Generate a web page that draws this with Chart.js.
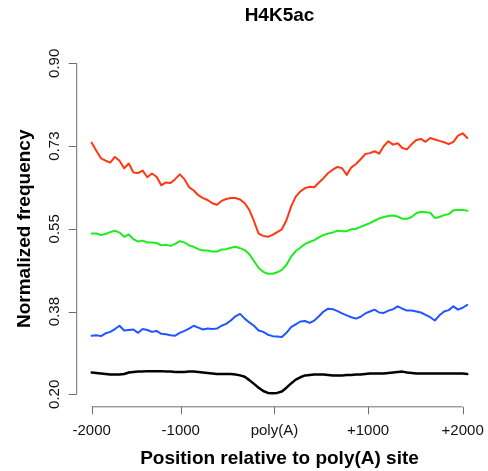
<!DOCTYPE html>
<html>
<head>
<meta charset="utf-8">
<script src="https://cdn.jsdelivr.net/npm/chart.js@4/dist/chart.umd.min.js"></script>
<style>
    html, body { margin: 0; padding: 0; background: #ffffff; }
    #wrap { width: 488px; height: 471px; }
</style>
</head>
<body>
<div id="wrap"><canvas id="profileChart"></canvas></div>
<script>

// 50 bp bins from -2000 to +2050 around the poly(A) site
const positions = [];
for (let i = 0; i < 82; i++) positions.push(-2000 + 50 * i);

const redValues = [
    0.732, 0.715, 0.699, 0.694, 0.690, 0.702, 0.694, 0.678, 0.688, 0.669,
    0.668, 0.673, 0.659, 0.667, 0.660, 0.642, 0.648, 0.647, 0.655, 0.665,
    0.655, 0.638, 0.631, 0.621, 0.615, 0.611, 0.604, 0.601, 0.609, 0.613,
    0.615, 0.615, 0.612, 0.604, 0.590, 0.566, 0.540, 0.535, 0.533, 0.537,
    0.543, 0.549, 0.568, 0.597, 0.618, 0.629, 0.636, 0.639, 0.638, 0.648,
    0.657, 0.668, 0.675, 0.681, 0.678, 0.664, 0.680, 0.687, 0.697, 0.708,
    0.710, 0.714, 0.709, 0.725, 0.735, 0.728, 0.731, 0.721, 0.718, 0.729,
    0.738, 0.740, 0.734, 0.742, 0.739, 0.736, 0.733, 0.729, 0.734, 0.747,
    0.752, 0.742
];

const greenValues = [
    0.540, 0.540, 0.537, 0.539, 0.543, 0.546, 0.542, 0.533, 0.538, 0.528,
    0.523, 0.525, 0.521, 0.521, 0.520, 0.515, 0.516, 0.514, 0.518, 0.524,
    0.521, 0.515, 0.512, 0.507, 0.504, 0.504, 0.502, 0.502, 0.506, 0.507,
    0.510, 0.512, 0.509, 0.505, 0.496, 0.482, 0.467, 0.459, 0.455, 0.455,
    0.458, 0.463, 0.474, 0.491, 0.503, 0.510, 0.518, 0.522, 0.526, 0.532,
    0.537, 0.540, 0.542, 0.546, 0.545, 0.545, 0.549, 0.550, 0.554, 0.558,
    0.562, 0.567, 0.572, 0.575, 0.577, 0.578, 0.576, 0.571, 0.571, 0.575,
    0.583, 0.586, 0.585, 0.584, 0.573, 0.575, 0.579, 0.581, 0.589, 0.590,
    0.590, 0.588
];

const blueValues = [
    0.324, 0.325, 0.323, 0.329, 0.332, 0.338, 0.345, 0.335, 0.336, 0.337,
    0.330, 0.338, 0.336, 0.332, 0.334, 0.328, 0.327, 0.325, 0.324, 0.330,
    0.334, 0.339, 0.345, 0.341, 0.337, 0.339, 0.338, 0.339, 0.345, 0.349,
    0.356, 0.365, 0.370, 0.360, 0.352, 0.345, 0.335, 0.332, 0.326, 0.323,
    0.322, 0.321, 0.330, 0.342, 0.348, 0.354, 0.355, 0.351, 0.356, 0.365,
    0.375, 0.381, 0.380, 0.376, 0.371, 0.367, 0.363, 0.360, 0.364, 0.371,
    0.375, 0.379, 0.373, 0.372, 0.377, 0.380, 0.386, 0.381, 0.377, 0.377,
    0.375, 0.373, 0.368, 0.363, 0.356, 0.367, 0.375, 0.378, 0.386, 0.379,
    0.383, 0.389
];

const blackValues = [
    0.246, 0.245, 0.244, 0.243, 0.242, 0.242, 0.242, 0.243, 0.246, 0.247,
    0.248, 0.248, 0.249, 0.249, 0.249, 0.249, 0.248, 0.248, 0.247, 0.247,
    0.247, 0.248, 0.248, 0.247, 0.246, 0.245, 0.244, 0.243, 0.243, 0.243,
    0.243, 0.242, 0.240, 0.237, 0.230, 0.222, 0.214, 0.207, 0.203, 0.202,
    0.203, 0.206, 0.214, 0.223, 0.231, 0.236, 0.240, 0.241, 0.242, 0.242,
    0.242, 0.241, 0.240, 0.240, 0.240, 0.241, 0.241, 0.242, 0.242, 0.243,
    0.244, 0.244, 0.244, 0.244, 0.245, 0.246, 0.247, 0.248, 0.246, 0.245,
    0.244, 0.244, 0.244, 0.244, 0.244, 0.244, 0.244, 0.244, 0.244, 0.244,
    0.244, 0.243
];

const xTickAt = [-2000, -1040, -30, 980, 2000];
const xTickLabels = ['-2000', '-1000', 'poly(A)', '+1000', '+2000'];
const yTickAt = [0.2, 0.375, 0.55, 0.725, 0.9];
const yTickLabels = ['0.20', '0.38', '0.55', '0.73', '0.90'];

const FONT = '"Liberation Sans", Arial, sans-serif';

function toPoints(values) {
    return values.map(function (v, i) { return { x: positions[i], y: v }; });
}

function lineSet(label, values, color, width) {
    return {
        label: label,
        data: toPoints(values),
        borderColor: color,
        borderWidth: width,
        pointRadius: 0,
        tension: 0,
        fill: false,
        clip: false,
        borderJoinStyle: 'round',
        borderCapStyle: 'round'
    };
}

// base-graphics style axes: detached from the plot region, ticks only at given marks
const plotAxes = {
    id: 'plotAxes',
    afterDraw(chart) {
        const ctx = chart.ctx;
        const area = chart.chartArea;
        const xs = chart.scales.x;
        const ys = chart.scales.y;

        ctx.save();
        ctx.strokeStyle = '#6e6e6e';
        ctx.lineWidth = 1;
        ctx.fillStyle = '#111111';

        // x axis
        const axisY = area.bottom + 12.5;
        const x0 = xs.getPixelForValue(xTickAt[0]);
        const x1 = xs.getPixelForValue(xTickAt[xTickAt.length - 1]);
        ctx.beginPath();
        ctx.moveTo(x0, axisY);
        ctx.lineTo(x1, axisY);
        xTickAt.forEach(function (v) {
            const px = Math.round(xs.getPixelForValue(v)) + 0.5;
            ctx.moveTo(px, axisY);
            ctx.lineTo(px, axisY + 7.5);
        });
        ctx.stroke();

        ctx.font = '15px ' + FONT;
        ctx.textAlign = 'center';
        ctx.textBaseline = 'middle';
        xTickAt.forEach(function (v, i) {
            ctx.fillText(xTickLabels[i], xs.getPixelForValue(v), axisY + 24.5);
        });

        // y axis
        const axisX = area.left - 15;
        const yTop = ys.getPixelForValue(yTickAt[yTickAt.length - 1]);
        const yBot = ys.getPixelForValue(yTickAt[0]);
        ctx.beginPath();
        ctx.moveTo(axisX, yTop);
        ctx.lineTo(axisX, yBot);
        yTickAt.forEach(function (v) {
            const py = Math.round(ys.getPixelForValue(v)) + 0.5;
            ctx.moveTo(axisX, py);
            ctx.lineTo(axisX - 8, py);
        });
        ctx.stroke();

        yTickAt.forEach(function (v, i) {
            ctx.save();
            ctx.translate(axisX - 22, ys.getPixelForValue(v));
            ctx.rotate(-Math.PI / 2);
            ctx.fillText(yTickLabels[i], 0, 0);
            ctx.restore();
        });

        // titles
        ctx.fillStyle = '#000000';
        ctx.font = 'bold 19px ' + FONT;
        const midX = (area.left + area.right) / 2;
        ctx.fillText('H4K5ac', midX, 16);
        ctx.fillText('Position relative to poly(A) site', midX, 459);

        ctx.save();
        ctx.translate(25, (yTop + yBot) / 2);
        ctx.rotate(-Math.PI / 2);
        ctx.fillText('Normalized frequency', 0, 0);
        ctx.restore();

        ctx.restore();
    }
};

const ctx = document.getElementById('profileChart').getContext('2d');

const profileChart = new Chart(ctx, {
    type: 'line',
    data: {
        datasets: [
            lineSet('red', redValues, '#ff3814', 2),
            lineSet('green', greenValues, '#1eec1e', 2),
            lineSet('blue', blueValues, '#2155ff', 2),
            lineSet('black', blackValues, '#000000', 2.5)
        ]
    },
    options: {
        responsive: true,
        maintainAspectRatio: false,
        animation: false,
        layout: {
            padding: { left: 91.7, right: 20.7, top: 63.3, bottom: 76.7 }
        },
        scales: {
            x: { type: 'linear', min: -2000, max: 2050, display: false },
            y: { type: 'linear', min: 0.2, max: 0.9, display: false }
        },
        plugins: {
            legend: { display: false },
            title: { display: false },
            tooltip: { enabled: false }
        }
    },
    plugins: [plotAxes]
});
</script>
</body>
</html>
